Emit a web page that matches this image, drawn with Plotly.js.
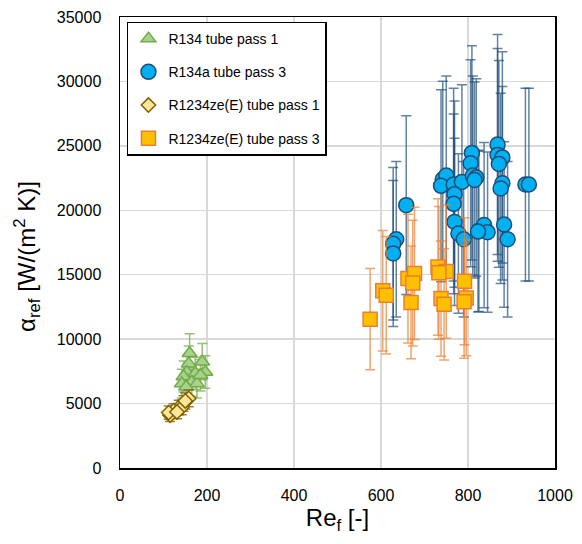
<!DOCTYPE html>
<html>
<head>
<meta charset="utf-8">
<script src="https://cdn.plot.ly/plotly-3.0.1.min.js"></script>
<style>html,body{margin:0;padding:0;background:#fff;}#chart{width:582px;height:544px;}</style>
</head>
<body>
<div id="chart"></div>
<script>
// ---- data ----
const seriesNames = ["R134 tube pass 1", "R134a tube pass 3", "R1234ze(E) tube pass 1", "R1234ze(E) tube pass 3"];

const r134Re    = [160, 158, 154, 189, 196, 173, 146, 165, 142, 177, 185, 152];
const r134Alpha = [8900, 8100, 7450, 8250, 7450, 7350, 7100, 6700, 6550, 6550, 7200, 6300];
const r134ErrPct = 17;

const r134aRe    = [868, 809, 868, 879, 871, 806, 742, 750, 738, 767, 786, 811, 819, 815, 879, 875, 932, 940, 769, 767, 769, 778, 790, 825, 837, 845, 883, 891, 635, 628, 628, 658, 823];
const r134aAlpha = [25100, 24450, 24300, 24100, 23600, 23650, 22400, 22700, 21900, 22000, 22200, 22700, 22550, 22350, 22100, 21700, 22000, 22000, 21250, 20500, 19100, 18200, 17750, 18400, 18850, 18300, 18900, 17750, 17750, 17400, 16650, 20400, 18350];
const r134aErrPct = 34;

const ze1Re    = [158, 146, 135, 123, 115, 112, 142, 131, 150];
const ze1Alpha = [5400, 5000, 4700, 4450, 4100, 4300, 4700, 4350, 5200];
const ze1ErrPct = 12;

const ze3Re    = [575, 604, 612, 662, 677, 673, 669, 731, 750, 733, 738, 745, 792, 796, 791];
const ze3Alpha = [11550, 13750, 13400, 14700, 15100, 14350, 12850, 15600, 15250, 15150, 13150, 12700, 14500, 13200, 12900];
const ze3ErrPct = 34;

const xTicks = [0, 200, 400, 600, 800, 1000];
const yTicks = [0, 5000, 10000, 15000, 20000, 25000, 30000, 35000];

const xTitle = "Re<sub>f</sub> [-]";
const yTitle = "α<sub>ref</sub> [W/(m<sup>2</sup> K)]";

// ---- traces ----
const FONT = "Liberation Sans, Arial, sans-serif";
function mk(name, x, y, pct, sym, size, fill, line, errColor, grp) {
  return {
    type: "scatter", mode: "markers", name: name, x: x, y: y,
    legendgroup: grp,
    marker: {symbol: sym, size: size, color: fill, line: {color: line, width: 1.5}},
    error_y: {type: "percent", value: pct, color: errColor, thickness: 1.5, width: 5}
  };
}
const traces = [
  mk(seriesNames[0], r134Re, r134Alpha, r134ErrPct, "triangle-up", 13, "#a9d18e", "#70ad47", "rgba(112,173,71,0.75)", "g1"),
  mk(seriesNames[1], r134aRe, r134aAlpha, r134aErrPct, "circle", 15, "#00b0f0", "#1f4e79", "rgba(31,78,121,0.7)", "g2"),
  mk(seriesNames[2], ze1Re, ze1Alpha, ze1ErrPct, "diamond", 11, "#ffe699", "#7f6000", "rgba(127,96,0,0.8)", "g3"),
  mk(seriesNames[3], ze3Re, ze3Alpha, ze3ErrPct, "square", 14, "#ffc000", "#ed7d31", "rgba(237,125,49,0.7)", "g4")
];

const layout = {
  width: 582, height: 544,
  margin: {l: 120, r: 27, t: 17, b: 76},
  paper_bgcolor: "#fff", plot_bgcolor: "#fff",
  font: {family: FONT, size: 16, color: "#000"},
  showlegend: true,
  legend: {
    x: 0.016, y: 0.99, xanchor: "left", yanchor: "top",
    bgcolor: "#fff", bordercolor: "#000", borderwidth: 1.5,
    font: {family: FONT, size: 14, color: "#000"},
    traceorder: "grouped", tracegroupgap: 12
  },
  xaxis: {
    range: [0, 1000], tickvals: xTicks, ticktext: xTicks.map(String),
    showgrid: true, gridcolor: "#d9d9d9", gridwidth: 1.5,
    showline: true, linecolor: "#000", linewidth: 1.5, mirror: true,
    zeroline: false, ticks: "outside", ticklen: 12, tickcolor: "rgba(0,0,0,0)",
    tickfont: {family: FONT, size: 16, color: "#000"},
    title: {text: xTitle, font: {family: FONT, size: 24, color: "#000"}, standoff: 4}
  },
  yaxis: {
    range: [0, 35000], tickvals: yTicks, ticktext: yTicks.map(String),
    showgrid: true, gridcolor: "#d9d9d9", gridwidth: 1.5,
    showline: true, linecolor: "#000", linewidth: 1.5, mirror: true,
    zeroline: false, ticks: "outside", ticklen: 14, tickcolor: "rgba(0,0,0,0)",
    tickfont: {family: FONT, size: 16, color: "#000"}
  },
  annotations: [{
    text: yTitle, xref: "paper", yref: "paper", x: -0.214, y: 0.47,
    xanchor: "center", yanchor: "middle", textangle: -90, showarrow: false,
    font: {family: FONT, size: 24, color: "#000"}
  }]
};

Plotly.newPlot("chart", traces, layout, {displayModeBar: false, staticPlot: true});
</script>
</body>
</html>
